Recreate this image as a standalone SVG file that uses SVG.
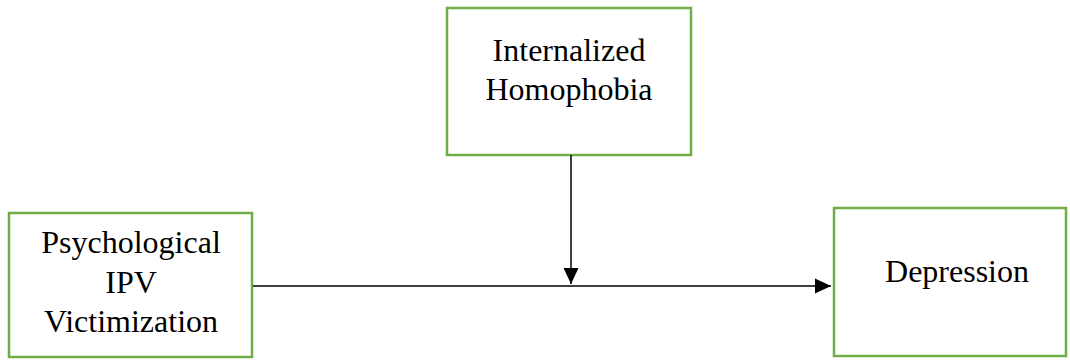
<svg xmlns="http://www.w3.org/2000/svg" width="1070" height="360" viewBox="0 0 1070 360">
<style>
.box{fill:#fff;stroke:#70AD47;stroke-width:2.5}
.t{font-family:"Liberation Serif","Times New Roman",serif;font-size:32px;fill:#000;text-anchor:middle}
.c{stroke:#000;stroke-width:1.5;fill:none}
</style>
<defs>
<marker id="ah" markerWidth="16" markerHeight="16" refX="16" refY="8" orient="auto" markerUnits="userSpaceOnUse">
<path d="M0,0.5 L16,8 L0,15.5 Z" fill="#000"/>
</marker>
</defs>
<rect width="1070" height="360" fill="#fff"/>
<g id="node-homophobia">
<rect class="box" x="447" y="8" width="244" height="147"/>
<text class="t" x="569" y="61">Internalized</text>
<text class="t" x="569" y="100">Homophobia</text>
</g>
<g id="node-ipv">
<rect class="box" x="9" y="213" width="243" height="144"/>
<text class="t" x="131" y="253">Psychological</text>
<text class="t" x="131" y="293">IPV</text>
<text class="t" x="131" y="332">Victimization</text>
</g>
<g id="node-depression">
<rect class="box" x="834" y="208" width="232" height="148"/>
<text class="t" x="957" y="282">Depression</text>
</g>
<g id="connectors">
<line class="c" x1="253" y1="286" x2="831" y2="286" marker-end="url(#ah)"/>
<line class="c" x1="571" y1="155" x2="571" y2="284" marker-end="url(#ah)"/>
</g>
</svg>
